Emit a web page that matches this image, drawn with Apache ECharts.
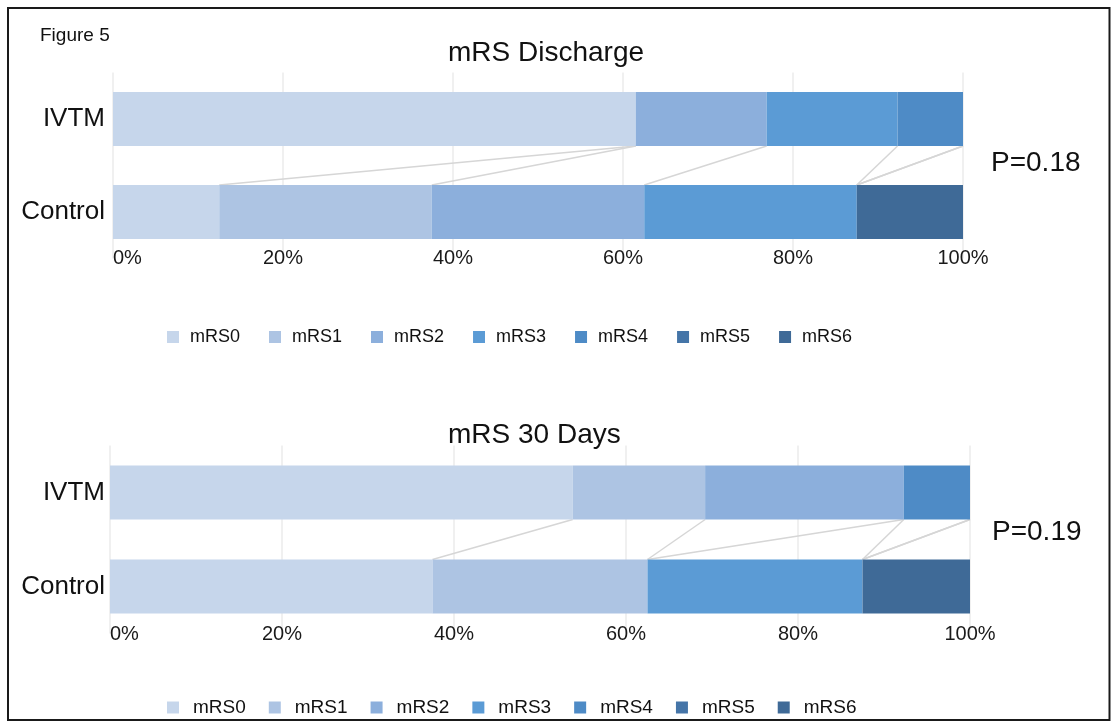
<!DOCTYPE html>
<html>
<head>
<meta charset="utf-8">
<script src="https://cdn.jsdelivr.net/npm/echarts@6/dist/echarts.min.js"></script>
<style>
  html, body { margin: 0; padding: 0; background: #fff; }
  #chart { width: 1115px; height: 722px; }
</style>
</head>
<body>
<div id="chart"></div>
<script>
// data (percent of patients per mRS grade)
const categories = ['IVTM', 'Control'];
const levels = ['mRS0', 'mRS1', 'mRS2', 'mRS3', 'mRS4', 'mRS5', 'mRS6'];
const dischargeIVTM = [61.5, 0, 15.4, 15.4, 7.7, 0, 0];
const dischargeControl = [12.5, 25, 25, 25, 0, 0, 12.5];
const day30IVTM = [53.8, 15.4, 23.1, 0, 7.7, 0, 0];
const day30Control = [37.5, 25, 0, 25, 0, 0, 12.5];
const panelTitles = ['mRS Discharge', 'mRS 30 Days'];
const pValues = ['P=0.18', 'P=0.19'];
const xMin = 0, xMax = 100, xStep = 20;

const colors = ['#c6d6eb', '#adc4e3', '#8cafdc', '#5b9bd5', '#4e8bc6', '#4575a8', '#3f6a97'];
const FONT = 'Liberation Sans, Arial, sans-serif';
const BAR_W = 54;

const chart = echarts.init(document.getElementById('chart'));

// running totals -> excel style "series lines" between the two bars
function cumulative(arr) {
  let s = 0;
  return arr.map(v => (s += v));
}
function connectorData(top, bottom) {
  const a = cumulative(top), b = cumulative(bottom);
  const out = [];
  for (let k = 0; k < levels.length - 1; k++) out.push([a[k], b[k], 0]);
  return out;
}

function renderConnector(params, api) {
  const p1 = api.coord([api.value(0), 0]);
  const p2 = api.coord([api.value(1), 1]);
  return {
    type: 'line',
    shape: { x1: p1[0], y1: p1[1] + BAR_W / 2, x2: p2[0], y2: p2[1] - BAR_W / 2 },
    style: { stroke: '#d6d6d6', lineWidth: 1.5 }
  };
}

function xAxisFor(gridIndex, margin) {
  return {
    gridIndex: gridIndex,
    type: 'value',
    min: xMin,
    max: xMax,
    interval: xStep,
    axisLine: { show: false },
    axisTick: { show: false },
    splitLine: { lineStyle: { color: '#ebebeb', width: 1.5 } },
    axisLabel: {
      formatter: '{value}%',
      fontFamily: FONT,
      fontSize: 20,
      color: '#1a1a1a',
      margin: margin,
      alignMinLabel: 'left'
    }
  };
}

function yAxisFor(gridIndex, margin) {
  return {
    gridIndex: gridIndex,
    type: 'category',
    data: categories,
    inverse: true,
    axisLine: { show: false },
    axisTick: { show: false },
    axisLabel: { fontFamily: FONT, fontSize: 26, color: '#111', margin: margin }
  };
}

function barSeries(gridIndex, ivtm, control) {
  return levels.map((name, i) => ({
    name: name,
    type: 'bar',
    stack: 'panel' + gridIndex,
    xAxisIndex: gridIndex,
    yAxisIndex: gridIndex,
    barWidth: BAR_W,
    itemStyle: { color: colors[i] },
    emphasis: { disabled: true },
    data: [ivtm[i], control[i]]
  }));
}

function legendAt(top, fontSize, pad, gap) {
  return {
    top: top,
    left: 162,
    itemWidth: 12,
    itemHeight: 12,
    itemGap: gap,
    icon: 'rect',
    selectedMode: false,
    data: levels,
    textStyle: { fontFamily: FONT, fontSize: fontSize, color: '#111', padding: [0, 0, 0, pad] }
  };
}

const option = {
  animation: false,
  backgroundColor: '#fff',
  color: colors,
  grid: [
    { left: 113, width: 850, top: 72.5, height: 186 },
    { left: 110, width: 860, top: 445.5, height: 188 }
  ],
  xAxis: [xAxisFor(0, -10), xAxisFor(1, -9)],
  yAxis: [yAxisFor(0, 8), yAxisFor(1, 5)],
  legend: [legendAt(323, 18, 6, 29), legendAt(693, 19, 9, 23)],
  series: [
    ...barSeries(0, dischargeIVTM, dischargeControl),
    ...barSeries(1, day30IVTM, day30Control),
    {
      type: 'custom',
      xAxisIndex: 0,
      yAxisIndex: 0,
      encode: { x: [0, 1], y: 2 },
      renderItem: renderConnector,
      silent: true,
      z: 1,
      data: connectorData(dischargeIVTM, dischargeControl)
    },
    {
      type: 'custom',
      xAxisIndex: 1,
      yAxisIndex: 1,
      encode: { x: [0, 1], y: 2 },
      renderItem: renderConnector,
      silent: true,
      z: 1,
      data: connectorData(day30IVTM, day30Control)
    }
  ],
  graphic: [
    {
      type: 'rect',
      shape: { x: 8, y: 8, width: 1101.5, height: 712 },
      style: { fill: 'none', stroke: '#1a1a1a', lineWidth: 2 },
      silent: true
    },
    {
      type: 'text', left: 40, top: 26,
      style: { text: 'Figure 5', font: '19px ' + FONT, fill: '#111' }
    },
    {
      type: 'text', x: 448, y: 53,
      style: { text: panelTitles[0], font: '28px ' + FONT, fill: '#111', verticalAlign: 'middle' }
    },
    {
      type: 'text', x: 448, y: 435,
      style: { text: panelTitles[1], font: '28px ' + FONT, fill: '#111', verticalAlign: 'middle' }
    },
    {
      type: 'text', x: 991, y: 163,
      style: { text: pValues[0], font: '28px ' + FONT, fill: '#111', verticalAlign: 'middle' }
    },
    {
      type: 'text', x: 992, y: 532,
      style: { text: pValues[1], font: '28px ' + FONT, fill: '#111', verticalAlign: 'middle' }
    }
  ]
};

chart.setOption(option);
</script>
</body>
</html>
